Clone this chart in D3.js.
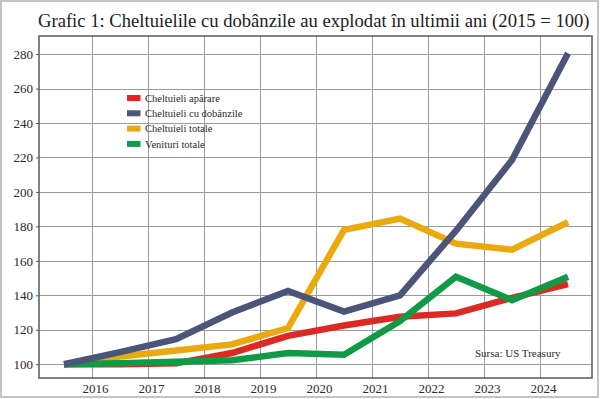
<!DOCTYPE html>
<html>
<head>
<meta charset="utf-8">
<script src="https://cdn.jsdelivr.net/npm/d3@7"></script>
<style>
  body { margin: 0; background: #fff; }
  svg { display: block; }
  svg text { font-family: "Liberation Serif", "DejaVu Serif", serif; }
</style>
</head>
<body>
<div class="chart"></div>
<script>
// Data (2015 = 100)
const years = [2015, 2016, 2017, 2018, 2019, 2020, 2021, 2022, 2023, 2024];
const aparare = [100, 100, 100.5, 106.5, 116.5, 122.5, 127.5, 129.5, 138.5, 146.5];
const dobanzi = [100, 107, 114.5, 130, 142.5, 130.5, 140, 177.5, 218.5, 280.5];
const totale = [100, 104.5, 108, 111.5, 121, 178, 184.5, 170, 166.5, 182.5];
const venituri = [100, 100.5, 101.5, 102.3, 106.5, 105.5, 125, 150.8, 137.2, 150.8];
const seriesNames = ['Cheltuieli apărare', 'Cheltuieli cu dobânzile', 'Cheltuieli totale', 'Venituri totale'];
const xTicks = [2016, 2017, 2018, 2019, 2020, 2021, 2022, 2023, 2024];
const yTicks = [100, 120, 140, 160, 180, 200, 220, 240, 260, 280];

const width = 600, height = 399;
const frame = { left: 39, right: 592, top: 36, bottom: 378 };

const colors = ['#dc2a23', '#4b5479', '#eaa90c', '#0f9a46'];
const seriesValues = [aparare, dobanzi, totale, venituri];

const svg = d3.select('.chart')
  .append('svg')
  .attr('width', width)
  .attr('height', height);

// light outer frame
svg.append('rect')
  .attr('x', 1).attr('y', 1)
  .attr('width', width - 3).attr('height', height - 3)
  .attr('fill', '#fff')
  .attr('stroke', '#c4c4c4')
  .attr('stroke-width', 2);

// title, sized so it spans the plot width
const title = svg.append('text')
  .attr('x', 38)
  .attr('y', 27)
  .attr('font-size', 20)
  .attr('fill', '#222')
  .text('Grafic 1: Cheltuielile cu dobânzile au explodat în ultimii ani (2015 = 100)');
const tw = title.node().getComputedTextLength();
title.attr('font-size', Math.min(20, 20 * 552 / tw));

// scales: year labels sit on grid lines, yearly values sit mid-way
const x = d3.scaleLinear()
  .domain([2016, 2024])
  .range([92, 540]);

const y = d3.scaleLinear()
  .domain([92, 290.5])
  .range([frame.bottom, frame.top]);

// grid
const grid = svg.append('g').attr('stroke', '#9a9a9a').attr('stroke-width', 1);
grid.selectAll('.vx')
  .data(xTicks)
  .join('line')
  .attr('x1', d => Math.round(x(d)) + 0.5)
  .attr('x2', d => Math.round(x(d)) + 0.5)
  .attr('y1', frame.top)
  .attr('y2', frame.bottom);
grid.selectAll('.hy')
  .data(yTicks)
  .join('line')
  .attr('x1', frame.left)
  .attr('x2', frame.right)
  .attr('y1', d => Math.round(y(d)) + 0.5)
  .attr('y2', d => Math.round(y(d)) + 0.5);

// plot frame
svg.append('rect')
  .attr('x', frame.left)
  .attr('y', frame.top)
  .attr('width', frame.right - frame.left)
  .attr('height', frame.bottom - frame.top)
  .attr('fill', 'none')
  .attr('stroke', '#5a5a5a')
  .attr('stroke-width', 1.5);

// axes
const xAxis = d3.axisBottom(x).tickValues(xTicks).tickFormat(d3.format('d')).tickSize(0).tickPadding(6);
const yAxis = d3.axisLeft(y).tickValues(yTicks).tickSize(3).tickPadding(3);

svg.append('g')
  .attr('transform', `translate(0, ${frame.bottom})`)
  .call(xAxis)
  .attr('font-family', null)
  .attr('font-size', 13)
  .call(g => g.select('.domain').remove())
  .call(g => g.selectAll('text').attr('fill', '#2a2a2a').attr('dx', 3));

svg.append('g')
  .attr('transform', `translate(${frame.left}, 0)`)
  .call(yAxis)
  .attr('font-family', null)
  .attr('font-size', 13)
  .call(g => g.select('.domain').remove())
  .call(g => g.selectAll('line').attr('stroke', '#5a5a5a'))
  .call(g => g.selectAll('text').attr('fill', '#2a2a2a'));

// lines
const line = d3.line()
  .x((d, i) => x(years[i] + 0.5))
  .y(d => y(d));

const drawOrder = [0, 2, 3, 1];
svg.append('g')
  .selectAll('path')
  .data(drawOrder)
  .join('path')
  .attr('d', i => line(seriesValues[i]))
  .attr('fill', 'none')
  .attr('stroke', i => colors[i])
  .attr('stroke-width', 6.5)
  .attr('stroke-linejoin', 'miter')
  .attr('stroke-linecap', 'butt');

// legend
const legend = svg.append('g')
  .attr('transform', 'translate(127, 98)')
  .selectAll('g')
  .data(seriesNames)
  .join('g')
  .attr('transform', (d, i) => `translate(0, ${i * 15.3})`);

legend.append('rect')
  .attr('x', 0)
  .attr('y', -3)
  .attr('width', 13.5)
  .attr('height', 6)
  .attr('fill', (d, i) => colors[i]);

legend.append('text')
  .attr('x', 18)
  .attr('y', 0)
  .attr('dy', '0.35em')
  .attr('font-size', 10.5)
  .attr('fill', '#2a2a2a')
  .text(d => d);

// source
svg.append('text')
  .attr('x', 475)
  .attr('y', 353)
  .attr('dy', '0.35em')
  .attr('font-size', 11)
  .attr('fill', '#2a2a2a')
  .text('Sursa: US Treasury');
</script>
</body>
</html>
